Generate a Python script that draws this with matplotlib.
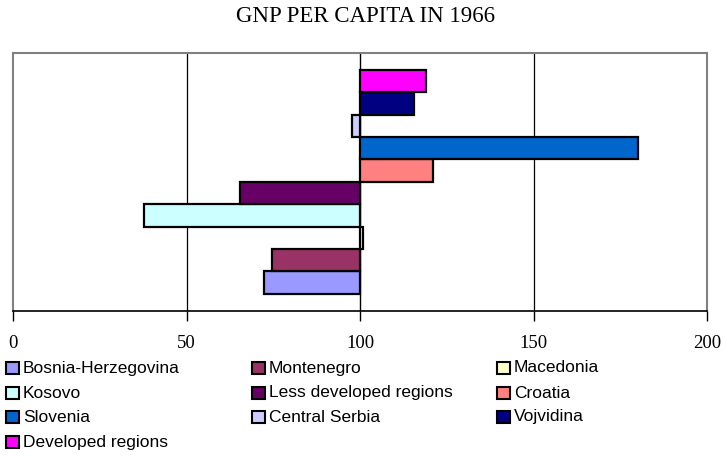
import matplotlib
matplotlib.use("Agg")
import matplotlib.pyplot as plt
from matplotlib.patches import Rectangle

regions = ["Bosnia-Herzegovina", "Montenegro", "Macedonia", "Kosovo",
           "Less developed regions", "Croatia", "Slovenia", "Central Serbia",
           "Vojvidina", "Developed regions"]
gnp_index = [72.3, 74.6, 101.0, 37.8, 65.4, 121.0, 180.0, 97.8, 115.6, 119.0]
colors = ["#9999FF", "#993366", "#FFFFCC", "#CCFFFF", "#660066",
          "#FF8080", "#0066CC", "#CCCCFF", "#000080", "#FF00FF"]
xticks = [0, 50, 100, 150, 200]
base = 100

W, H = 723, 459
fig = plt.figure(figsize=(W/100, H/100), dpi=100)
ax = fig.add_axes([13/W, 1 - 311/H, (707-13)/W, (311-52.7)/H])

ys = list(range(len(regions)))
ax.barh(ys, [v - base for v in gnp_index], left=base, height=1.0,
        color=colors, edgecolor="black", linewidth=1.6, zorder=3)

ax.set_xlim(0, 200)
ax.set_ylim(-0.5 - 0.775, len(regions) - 0.5 + 0.775)
ax.set_yticks([])
ax.set_xticks(xticks)
ax.set_xticklabels([str(t) for t in xticks], fontfamily="Liberation Serif", fontsize=13.5)
ax.tick_params(axis="x", direction="out", length=7, width=1, pad=10, colors="black")
for t in [50, 150]:
    ax.axvline(t, color="black", linewidth=0.9, zorder=1)
ax.axvline(base, color="black", linewidth=1.0, zorder=2)
for s in ["top", "left", "right"]:
    ax.spines[s].set_color("#808080")
    ax.spines[s].set_linewidth(1.5)
ax.spines["bottom"].set_color("black")
ax.spines["bottom"].set_linewidth(1.2)

fig.text(365/W, 1 - 17/H, "GNP PER CAPITA IN 1966", ha="center", va="center",
         fontfamily="Liberation Serif", fontsize=16.5)

# legend, row-major, fixed column positions
col_x = [6, 252, 497]
row_y = [368, 393, 417, 442]
sq = 12.5
for i, (name, c) in enumerate(zip(regions, colors)):
    r, k = divmod(i, 3)
    x0 = col_x[k]
    yc = row_y[r]
    fig.add_artist(Rectangle((x0/W, 1 - (yc + sq/2)/H), sq/W, sq/H,
                             transform=fig.transFigure, facecolor=c,
                             edgecolor="black", linewidth=1.5))
    fig.text((x0 + 17)/W, 1 - yc/H, name, ha="left", va="center",
             fontfamily="Liberation Sans", fontsize=12.5)

fig.savefig("out.png", dpi=100)
